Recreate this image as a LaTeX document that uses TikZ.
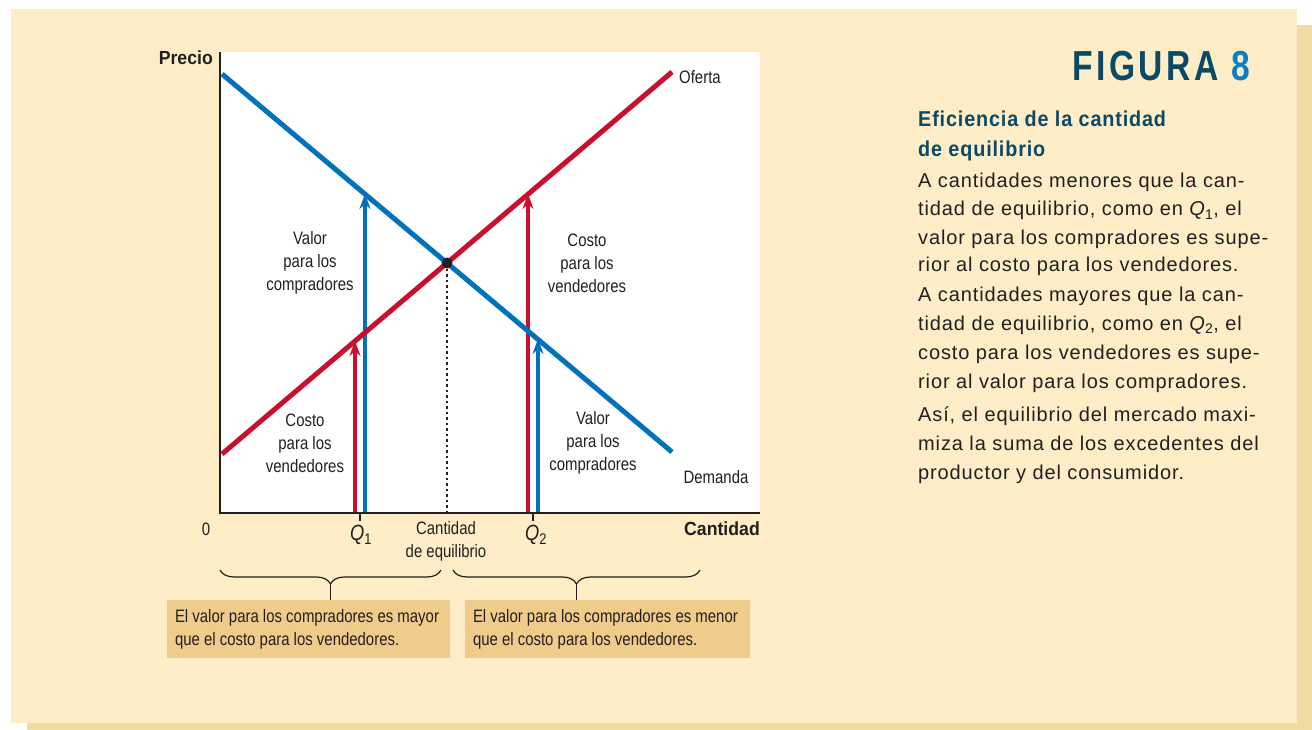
\documentclass[tikz,border=0pt]{standalone}
\usepackage{fontspec}
\setmainfont{Liberation Sans}
\newfontfamily\condfont{Liberation Sans}[FakeStretch=0.83]
\newfontfamily\condbf{Liberation Sans}[FakeStretch=0.93]
\newfontfamily\bodyfam{Liberation Sans}[LetterSpace=4.4]
\newfontfamily\headfam{Liberation Sans}[FakeStretch=0.92, LetterSpace=4]
\newfontfamily\figfam{Liberation Sans}[FakeStretch=0.8, LetterSpace=8]
\usetikzlibrary{arrows.meta, decorations.pathreplacing}

\definecolor{panelbg}{HTML}{FEEDC7}
\definecolor{panelshadow}{HTML}{F2DCA3}
\definecolor{notefill}{HTML}{EFCC8A}
\definecolor{supred}{HTML}{C8102E}
\definecolor{demblue}{HTML}{0071BC}
\definecolor{ink}{HTML}{231F20}
\definecolor{titleteal}{HTML}{0B4A66}
\definecolor{figblue}{HTML}{0C7FC4}

\newcommand{\lblfont}{\condfont\fontsize{18}{23}\selectfont}
\newcommand{\qfont}{\condfont\fontsize{22}{24}\selectfont}
\newcommand{\axfont}{\condbf\bfseries\fontsize{19}{23}\selectfont}
\newcommand{\bodyfont}{\bodyfam\fontsize{20}{28}\selectfont}
\newcommand{\headfont}{\headfam\bfseries\fontsize{21.5}{30}\selectfont}
\newcommand{\figfont}{\figfam\bfseries\fontsize{42}{46}\selectfont}
\newcommand{\qq}[1]{{\itshape Q}\textsubscript{#1}}

\begin{document}
\begin{tikzpicture}[x=1pt, y=-1pt, >={Stealth[length=15pt,width=11pt,inset=5pt]},
  curve/.style={line width=5pt},
  riser/.style={line width=3.6pt, ->},
  thin ink/.style={ink, line width=1.2pt},
  lbl/.style={font=\lblfont, text=ink, align=center, inner sep=0pt},
  axlbl/.style={font=\axfont, text=ink, inner sep=0pt},
  note/.style={fill=notefill, minimum width=283pt, minimum height=58pt, inner sep=0pt},
  body/.style={font=\bodyfont, text=ink, anchor=base west, inner sep=0pt}]

  % background panel
  \useasboundingbox (0,0) rectangle (1312,730);
  \fill[panelshadow] (27,25) rectangle (1312,730);
  \fill[panelbg] (11,9) rectangle (1297,723);
  \fill[white] (220,52) rectangle (760,513);

  % market curves
  \coordinate (origin) at (220,513);
  \coordinate (d0) at (222,74);
  \coordinate (d1) at (672,452);
  \coordinate (s0) at (222,454);
  \coordinate (s1) at (672,72);
  \coordinate (eq) at (447,263);
  \coordinate (q1) at (360,513);
  \coordinate (q2) at (533,513);

  \draw[riser, supred] (355,513) -- (355,341);
  \draw[riser, demblue] (365,513) -- (365,194);
  \draw[riser, supred] (528,513) -- (528,194);
  \draw[riser, demblue] (538,513) -- (538,339);

  \draw[curve, demblue] (d0) -- (d1);
  \draw[curve, supred] (s0) -- (s1);

  \draw[thin ink] (220,52) -- (origin) -- (760,513);
  \draw[ink, line width=2.5pt, dash pattern=on 2.5pt off 3pt] (eq) -- (eq |- origin);
  \fill[ink] (eq) circle (5.5pt);
  \draw[thin ink] (q1) -- ++(0,8);
  \draw[thin ink] (q2) -- ++(0,8);

  % axis labels
  \node[axlbl, anchor=east] at (213,58) {Precio};
  \node[axlbl, anchor=east] at (760,529) {Cantidad};
  \node[lbl] at (206,529) {0};
  \node[lbl, font=\qfont] at (361,535) {\qq{1}};
  \node[lbl, font=\qfont] at (536,535) {\qq{2}};
  \node[lbl] at (446,541) {Cantidad\\de equilibrio};
  \node[lbl, anchor=west] at (679,77) {Oferta};
  \node[lbl] at (716,477) {Demanda};

  % arrow labels
  \node[lbl] at (310,263) {Valor\\para los\\compradores};
  \node[lbl] at (587,263) {Costo\\para los\\vendedores};
  \node[lbl] at (305,443) {Costo\\para los\\vendedores};
  \node[lbl] at (593,443) {Valor\\para los\\compradores};

  % braces and notes
  \draw[thin ink, decorate, decoration={brace, mirror, amplitude=14pt}] (220,570) -- (441,570);
  \draw[thin ink, decorate, decoration={brace, mirror, amplitude=14pt}] (453,570) -- (700,570);
  \coordinate (tipL) at (330.5,584);
  \coordinate (tipR) at (576.5,584);
  \node[note] (bxmayor) at (308.5,629) {};
  \node[note, minimum width=285pt] (bxmenor) at (607.5,629) {};
  \draw[thin ink] (tipL) -- (tipL |- bxmayor.north);
  \draw[thin ink] (tipR) -- (tipR |- bxmenor.north);
  \node[lbl, align=left, anchor=west] at ([xshift=8pt]bxmayor.west)
    {El valor para los compradores es mayor\\que el costo para los vendedores.};
  \node[lbl, align=left, anchor=west] at ([xshift=8pt]bxmenor.west)
    {El valor para los compradores es menor\\que el costo para los vendedores.};

  % caption
  \node[anchor=base east, inner sep=0pt, font=\figfont, text=titleteal] at (1250,81)
    {FIGURA \textcolor{figblue}{8}};
  \node[anchor=base west, inner sep=0pt, font=\headfont, text=titleteal] at (918,127)
    {Eficiencia de la cantidad};
  \node[anchor=base west, inner sep=0pt, font=\headfont, text=titleteal] at (918,157)
    {de equilibrio};
  \foreach \yy/\txt in {188/{A cantidades menores que la can-},
      216/{tidad de equilibrio, como en \qq{1}, el},
      244/{valor para los compradores es supe-},
      272/{rior al costo para los vendedores.},
      301/{A cantidades mayores que la can-},
      330/{tidad de equilibrio, como en \qq{2}, el},
      359/{costo para los vendedores es supe-},
      388/{rior al valor para los compradores.},
      421/{Así, el equilibrio del mercado maxi-},
      450/{miza la suma de los excedentes del},
      479/{productor y del consumidor.}}
    \node[body] at (918,\yy) {\txt};
\end{tikzpicture}
\end{document}
